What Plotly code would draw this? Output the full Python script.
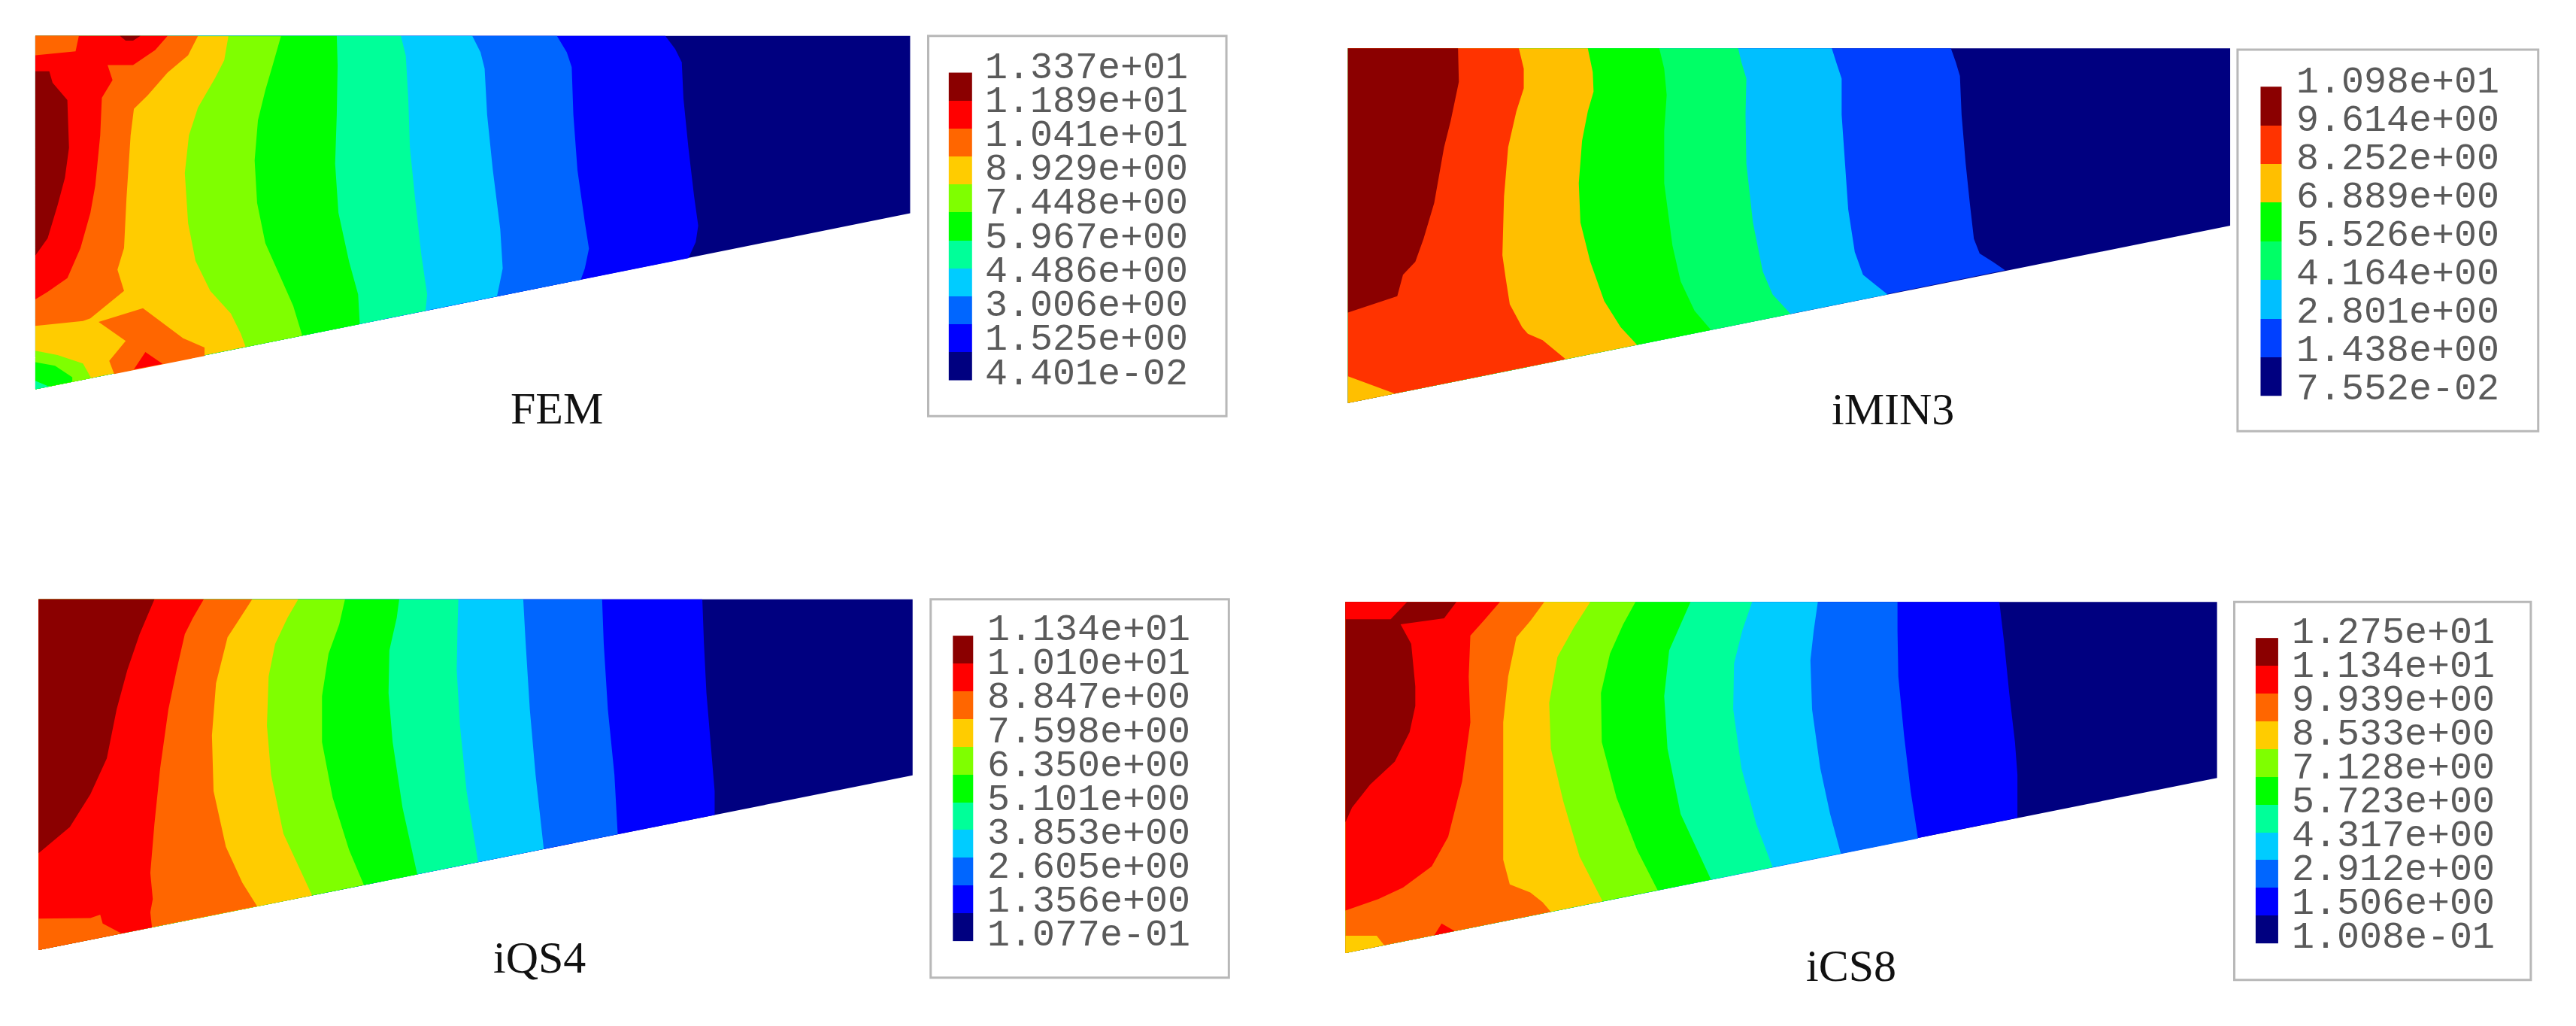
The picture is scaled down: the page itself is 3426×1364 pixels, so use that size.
import plotly.graph_objects as go

WIDTH, HEIGHT = 3426, 1364
COLORS_11 = ["#000080", "#0000ff", "#0066ff", "#00ccff", "#00ff99", "#00ff00",
             "#7fff00", "#ffcc00", "#ff6600", "#ff0000", "#8b0000"]
COLORS_8 = ["#000080", "#0040ff", "#00bfff", "#00ff66", "#00ff00", "#ffbf00", "#ff3300", "#8b0000"]

FEM_LABELS = ["1.337e+01", "1.189e+01", "1.041e+01", "8.929e+00", "7.448e+00",
              "5.967e+00", "4.486e+00", "3.006e+00", "1.525e+00", "4.401e-02"]
MIN_LABELS = ["1.098e+01", "9.614e+00", "8.252e+00", "6.889e+00", "5.526e+00",
              "4.164e+00", "2.801e+00", "1.438e+00", "7.552e-02"]
QS4_LABELS = ["1.134e+01", "1.010e+01", "8.847e+00", "7.598e+00", "6.350e+00",
              "5.101e+00", "3.853e+00", "2.605e+00", "1.356e+00", "1.077e-01"]
CS8_LABELS = ["1.275e+01", "1.134e+01", "9.939e+00", "8.533e+00", "7.128e+00",
              "5.723e+00", "4.317e+00", "2.912e+00", "1.506e+00", "1.008e-01"]

# Plate outlines: x-left, x-right, y-top, y-right-bottom, y-left-bottom
FEM_PLATE = (43, 1108, 110, 652, 1190)
MIN_PLATE = (73, 1147, 148, 690, 1232)
QS4_PLATE = (47, 1111, 264, 802, 1336)
CS8_PLATE = (70, 1131, 272, 810, 1345)

# Contour boundaries, from the lowest level to the highest; each is (level index, outline)
FEM_CURVES = [
    (1, [(810,110),(822,150),(830,190),(832,300),(838,450),(845,600),(850,690),(847,740),(838,789)]),
    (2, [(678,110),(690,160),(696,205),(698,350),(703,520),(712,680),(717,760),(712,820),(707,855)]),
    (3, [(575,110),(585,160),(590,210),(593,350),(600,520),(609,700),(612,820),(608,870),(605,906)]),
    (4, [(488,110),(494,170),(497,300),(499,450),(505,600),(513,780),(520,900),(518,950)]),
    (5, [(410,110),(411,200),(410,350),(408,500),(412,650),(425,800),(436,900),(438,991)]),
    (6, [(342,111),(332,199),(323,276),(314,368),(310,490),(313,620),(323,743),(342,850),(357,935),(368,1026)]),
    (7, [(278,111),(273,184),(262,238),(241,329),(230,414),(225,529),(229,682),(238,797),(256,889),(281,958),(293,1019),(299,1060)]),
    (8, [(241,110),(229,169),(204,222),(180,291),(163,333),(159,414),(157,490),(154,605),(151,758),(143,824),(151,889),(110,973),(101,981),(43,996)]),
    (9, [(204,110),(189,153),(162,199),(131,199),(137,245),(124,299),(122,414),(116,567),(110,651),(98,758),(82,850),(58,892),(43,915)]),
]
FEM_PATCHES = [
    (10, [(43,218),(60,218),(64,253),(82,306),(84,452),(79,544),(70,628),(58,728),(43,781)]),
    (10, [(146,110),(171,110),(162,124),(153,124)]),
    (8, [(43,110),(96,110),(92,157),(43,169)]),
    (8, [(120,984),(174,942),(223,1034),(249,1062),(249,1088),(139,1143),(133,1103),(153,1042)]),
    (9, [(163,1129),(177,1076),(198,1112)]),
    (6, [(43,1072),(70,1085),(101,1111),(111,1156),(43,1190)]),
    (5, [(43,1107),(67,1118),(88,1153),(88,1167),(43,1190)]),
    (4, [(43,1164),(60,1182),(43,1190)]),
]

MIN_CURVES = [
    (1, [(807,148),(813,190),(818,232),(820,350),(825,500),(830,620),(835,730),(842,775),(858,800),(873,826)]),
    (2, [(662,148),(668,195),(674,240),(674,350),(678,500),(682,640),(690,770),(700,840),(715,870),(730,900)]),
    (3, [(548,148),(552,190),(558,240),(557,350),(558,500),(566,680),(578,830),(590,900),(612,960)]),
    (4, [(452,148),(458,210),(461,290),(458,400),(458,560),(468,750),(478,860),(495,950),(515,1009)]),
    (5, [(365,148),(371,220),(372,280),(365,340),(358,430),(354,560),(356,680),(368,800),(385,920),(405,1000),(425,1054)]),
    (6, [(281,148),(287,210),(287,270),(278,340),(268,450),(263,600),(261,780),(265,850),(270,930),(285,1000),(292,1020),(310,1040),(338,1098)]),
    (7, [(207,148),(208,250),(198,370),(190,450),(178,620),(165,730),(155,800),(140,840),(133,905),(73,955)]),
]
MIN_PATCHES = [
    (5, [(73,1150),(130,1203),(73,1232)]),
]

QS4_CURVES = [
    (1, [(855,264),(857,400),(860,550),(865,700),(870,850),(870,923)]),
    (2, [(733,264),(735,400),(740,600),(748,800),(752,982)]),
    (3, [(637,264),(640,400),(645,600),(652,800),(662,1027)]),
    (4, [(558,264),(557,350),(556,480),(560,650),(568,850),(582,1067)]),
    (5, [(486,264),(483,320),(474,420),(473,550),(478,700),(490,900),(508,1105)]),
    (6, [(420,264),(413,340),(400,430),(392,560),(392,700),(405,870),(425,1030),(443,1137)]),
    (7, [(363,264),(350,320),(335,400),(327,500),(325,650),(330,800),(345,980),(380,1169)]),
    (8, [(307,264),(290,330),(277,380),(263,520),(258,680),(260,850),(275,1020),(295,1130),(313,1202)]),
    (9, [(248,264),(235,320),(225,370),(215,480),(205,600),(195,780),(188,950),(183,1100),(186,1180),(183,1220),(185,1267)]),
    (10, [(188,264),(170,370),(155,480),(142,600),(130,750),(110,860),(85,960),(47,1040)]),
]
QS4_PATCHES = [
    (8, [(47,1240),(110,1238),(122,1228),(125,1255),(148,1285),(47,1336)]),
]

CS8_CURVES = [
    (1, [(866,272),(872,400),(878,550),(885,700),(888,800),(888,932)]),
    (2, [(742,272),(742,360),(743,500),(750,680),(758,850),(767,995)]),
    (3, [(645,272),(640,360),(636,450),(638,600),(648,780),(660,920),(673,1041)]),
    (4, [(565,272),(553,360),(543,460),(542,600),(552,780),(570,950),(590,1083)]),
    (5, [(490,272),(478,340),(464,420),(458,560),(462,720),(478,920),(515,1121)]),
    (6, [(423,272),(408,340),(392,430),(381,550),(382,700),(400,870),(425,1030),(450,1153)]),
    (7, [(368,272),(348,350),(328,440),(318,580),(320,720),(335,880),(355,1050),(383,1187)]),
    (8, [(312,272),(295,330),(278,380),(268,500),(262,640),(262,850),(262,1060),(270,1135),(295,1160),(310,1190),(320,1219)]),
    (9, [(258,272),(238,330),(222,375),(220,500),(222,640),(212,820),(195,990),(175,1080),(140,1145),(110,1180),(70,1215)]),
    (10, [(205,272),(190,322),(137,340),(150,400),(155,530),(155,590),(148,670),(130,760),(100,830),(78,900),(70,945)]),
]
CS8_PATCHES = [
    (9, [(70,272),(145,272),(125,325),(70,325)]),
    (7, [(70,1292),(108,1292),(117,1321),(70,1345)]),
    (9, [(178,1291),(187,1255),(203,1278)]),
]

# name, plate, curves, patches, colours, labels, caption x/y,
# swatch x0,x1,y0,y1, label x, first/last label y, box x0,x1,y0,y1, domain x, domain y
PANELS = [
    ("FEM", FEM_PLATE, FEM_CURVES, FEM_PATCHES, COLORS_11, FEM_LABELS, 678, 1248,
     1155, 1183, 222, 1162, 1197, 207, 1143, 1130, 1493, 110, 1272, (0, .5), (.5, 1)),
    ("iMIN3", MIN_PLATE, MIN_CURVES, MIN_PATCHES, COLORS_8, MIN_LABELS, 736, 1250,
     1184, 1210, 265, 1210, 1226, 252, 1190, 1156, 1522, 152, 1318, (.5, 1), (.5, 1)),
    ("iQS4", QS4_PLATE, QS4_CURVES, QS4_PATCHES, COLORS_11, QS4_LABELS, 657, 1358,
     1160, 1185, 375, 1308, 1200, 358, 1292, 1133, 1496, 264, 1420, (0, .5), (0, .5)),
    ("iCS8", CS8_PLATE, CS8_CURVES, CS8_PATCHES, COLORS_11, CS8_LABELS, 686, 1383,
     1178, 1205, 382, 1315, 1220, 367, 1297, 1152, 1513, 272, 1427, (.5, 1), (0, .5)),
]

fig = go.Figure()
shapes, annotations, layout_axes = [], [], {}

for i, p in enumerate(PANELS, start=1):
    name, plate, curves, patches, colors, labels, cx, cy, sx0, sx1, sy0, sy1, lx, ly0, ly1, bx0, bx1, by0, by1, dx, dy = p
    xa, ya = f"x{i}" if i > 1 else "x", f"y{i}" if i > 1 else "y"
    layout_axes[f"xaxis{i}"] = dict(domain=dx, range=[0, 1568], visible=False, fixedrange=True, anchor=ya)
    layout_axes[f"yaxis{i}"] = dict(domain=dy, range=[1568, 0], visible=False, fixedrange=True, anchor=xa)
    left, right, top, rbot, lbot = plate

    def poly(level, pts):
        fig.add_trace(go.Scatter(x=[q[0] for q in pts], y=[q[1] for q in pts], mode="lines",
                                 fill="toself", fillcolor=colors[level], line=dict(width=0),
                                 xaxis=xa, yaxis=ya, hoverinfo="skip", showlegend=False))

    # whole plate in the lowest level
    poly(0, [(left, top), (right, top), (right, rbot), (left, lbot)])
    for level, curve in curves:
        pts = [(left, top)] + curve
        if curve[-1][0] > left + 1:
            pts = pts + [(left, lbot)]
        poly(level, pts)
    for level, pts in patches:
        poly(level, pts)

    # legend box
    shapes.append(dict(type="rect", xref=xa, yref=ya, x0=bx0, x1=bx1, y0=by0, y1=by1,
                       line=dict(color="#b8b8b8", width=3), fillcolor="white", layer="below"))
    # legend swatches (top = highest level)
    n = len(colors)
    edges = [sy0 + (sy1 - sy0) * k / n for k in range(n + 1)]
    scale = []
    for k, c in enumerate(colors):
        scale += [[k / n, c], [(k + 1) / n, c]]
    fig.add_trace(go.Heatmap(x=[sx0, sx1], y=edges, z=[[n - k - .5] for k in range(n)],
                             zmin=0, zmax=n, colorscale=scale, showscale=False,
                             xaxis=xa, yaxis=ya, hoverinfo="skip"))
    # legend labels
    m = len(labels)
    for k, t in enumerate(labels):
        annotations.append(dict(text=t, x=lx, y=ly0 + (ly1 - ly0) * k / (m - 1), xref=xa, yref=ya,
                                xanchor="left", yanchor="middle", showarrow=False, align="left",
                                font=dict(family="Liberation Mono", size=50, color="#5a5a5a")))
    # caption
    annotations.append(dict(text=name, x=cx, y=cy, xref=xa, yref=ya, showarrow=False,
                            xanchor="center", yanchor="middle",
                            font=dict(family="Liberation Serif", size=60, color="#111111")))

fig.update_layout(width=WIDTH, height=HEIGHT, margin=dict(l=0, r=0, t=0, b=0),
                  paper_bgcolor="white", plot_bgcolor="white", showlegend=False,
                  shapes=shapes, annotations=annotations, **layout_axes)
fig.write_html("out.html", post_script="document.body.style.margin='0';document.documentElement.style.overflow='hidden';",
               config={"displayModeBar": False})
